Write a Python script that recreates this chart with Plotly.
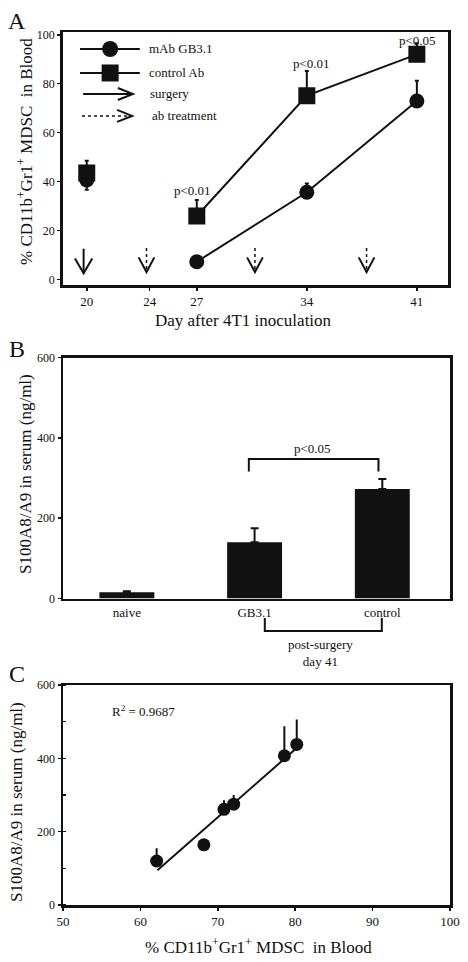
import plotly.graph_objects as go

# ---------------- data ----------------
# Panel A
days = [20, 27, 34, 41]
gb31 = [40.6, 7.2, 35.6, 72.9]
gb31_err_plus = [0, 0, 3.6, 8.3]
gb31_err_minus = [4.0, 0, 0, 0]
ctrl = [43.5, 25.9, 75.1, 92.0]
ctrl_err_plus = [5.0, 6.5, 10.1, 4.5]
ctrl_err_minus = [0, 0, 0, 0]
a_xticks = [20, 24, 27, 34, 41]
a_yticks = [0, 20, 40, 60, 80, 100]
pval_days = [26.7, 34.3, 41.06]
pval_y = [36.2, 88.3, 97.5]
pval_text = ["p<0.01", "p<0.01", "p<0.05"]
surgery_days = [19.8]
treatment_days = [23.8, 30.7, 37.8]

# Panel B
groups = ["naive", "GB3.1", "control"]
s100 = [15.4, 140, 272.6]
s100_err = [2.5, 35, 25]

# Panel C
mdsc = [62.1, 68.2, 70.8, 72.05, 78.6, 80.2]
s100_c = [120, 164, 261, 275, 407, 438]
s100_c_err = [32, 0, 22, 22, 78, 65]
fit_x = [62.2, 80.3]
fit_y = [95, 430]

# ---------------- style ----------------
FONT = "Liberation Serif, Times New Roman, serif"
INK = "#111111"

fig = go.Figure()

# Panel A traces
fig.add_trace(go.Scatter(
    x=days[:1], y=ctrl[:1], mode="markers",
    marker=dict(symbol="square", size=17, color=INK),
    error_y=dict(type="data", array=ctrl_err_plus[:1], arrayminus=ctrl_err_minus[:1],
                 color=INK, thickness=2, width=2),
    xaxis="x", yaxis="y", showlegend=False))
fig.add_trace(go.Scatter(
    x=days[:1], y=gb31[:1], mode="markers",
    marker=dict(symbol="circle", size=15, color=INK),
    error_y=dict(type="data", array=gb31_err_plus[:1], arrayminus=gb31_err_minus[:1],
                 color=INK, thickness=2, width=2),
    xaxis="x", yaxis="y", showlegend=False))
fig.add_trace(go.Scatter(
    x=days[1:], y=ctrl[1:], mode="lines+markers",
    line=dict(color=INK, width=2),
    marker=dict(symbol="square", size=17, color=INK),
    error_y=dict(type="data", array=ctrl_err_plus[1:], arrayminus=ctrl_err_minus[1:],
                 color=INK, thickness=2, width=2),
    xaxis="x", yaxis="y", showlegend=False))
fig.add_trace(go.Scatter(
    x=days[1:], y=gb31[1:], mode="lines+markers",
    line=dict(color=INK, width=2),
    marker=dict(symbol="circle", size=15, color=INK),
    error_y=dict(type="data", array=gb31_err_plus[1:], arrayminus=gb31_err_minus[1:],
                 color=INK, thickness=2, width=2),
    xaxis="x", yaxis="y", showlegend=False))

# Panel B
fig.add_trace(go.Bar(
    x=groups, y=s100, width=0.43, marker=dict(color=INK, line=dict(width=0)),
    error_y=dict(type="data", array=s100_err, arrayminus=[0, 0, 0],
                 color=INK, thickness=2, width=4),
    xaxis="x2", yaxis="y2", showlegend=False))

# Panel C
fig.add_trace(go.Scatter(
    x=fit_x, y=fit_y, mode="lines", line=dict(color=INK, width=2),
    xaxis="x3", yaxis="y3", showlegend=False))
fig.add_trace(go.Scatter(
    x=mdsc, y=s100_c, mode="markers",
    marker=dict(symbol="circle", size=13, color=INK),
    error_y=dict(type="data", array=s100_c_err, arrayminus=[0] * len(mdsc),
                 color=INK, thickness=2, width=1),
    xaxis="x3", yaxis="y3", showlegend=False))

shapes = []
annotations = []

# Panel A arrows (surgery solid, treatment dotted)
for d in surgery_days:
    shapes.append(dict(type="line", xref="x", yref="y", x0=d, x1=d, y0=12.5, y1=2.5,
                       line=dict(color=INK, width=2)))
    shapes.append(dict(type="path", xref="x", yref="y",
                       path=f"M {d-0.55},8.5 L {d},2.5 L {d+0.55},8.5",
                       line=dict(color=INK, width=2)))
for d in treatment_days:
    shapes.append(dict(type="line", xref="x", yref="y", x0=d, x1=d, y0=12.8, y1=3.0,
                       line=dict(color=INK, width=1.5, dash="dot")))
    shapes.append(dict(type="path", xref="x", yref="y",
                       path=f"M {d-0.5},9 L {d},3.0 L {d+0.5},9",
                       line=dict(color=INK, width=2)))

# Panel A legend (drawn in axis-domain coordinates)
leg_rows = [0.934, 0.839, 0.756, 0.669]
for r in leg_rows[:2]:
    shapes.append(dict(type="line", xref="x domain", yref="y domain",
                       x0=0.045, x1=0.2, y0=r, y1=r, line=dict(color=INK, width=2)))
shapes.append(dict(type="circle", xref="x domain", yref="y domain",
                   xsizemode="pixel", ysizemode="pixel", xanchor=0.123, yanchor=leg_rows[0],
                   x0=-8, x1=8, y0=-8, y1=8, fillcolor=INK, line=dict(color=INK, width=0)))
shapes.append(dict(type="rect", xref="x domain", yref="y domain",
                   xsizemode="pixel", ysizemode="pixel", xanchor=0.123, yanchor=leg_rows[1],
                   x0=-8.5, x1=8.5, y0=-8.5, y1=8.5, fillcolor=INK, line=dict(color=INK, width=0)))
shapes.append(dict(type="line", xref="x domain", yref="y domain",
                   x0=0.053, x1=0.18, y0=leg_rows[2], y1=leg_rows[2],
                   line=dict(color=INK, width=2)))
shapes.append(dict(type="line", xref="x domain", yref="y domain",
                   x0=0.05, x1=0.175, y0=leg_rows[3], y1=leg_rows[3],
                   line=dict(color=INK, width=1.5, dash="dot")))
for r, tip in [(leg_rows[2], 0.182), (leg_rows[3], 0.18)]:
    shapes.append(dict(type="path", xref="x domain", yref="y domain",
                       xsizemode="pixel", ysizemode="pixel", xanchor=tip, yanchor=r,
                       path="M -15,6 L 0,0 L -15,-6", line=dict(color=INK, width=2)))
leg_text = ["mAb GB3.1", "control Ab", "surgery", "ab treatment"]
leg_tx = [0.219, 0.219, 0.222, 0.226]
for t, r, tx in zip(leg_text, leg_rows, leg_tx):
    annotations.append(dict(text=t, xref="x domain", yref="y domain", x=tx, y=r,
                            xanchor="left", yanchor="middle", showarrow=False,
                            font=dict(family=FONT, size=13, color=INK)))

# p-values A
for x, y, t in zip(pval_days, pval_y, pval_text):
    annotations.append(dict(text=t, xref="x", yref="y", x=x, y=y, showarrow=False,
                            xanchor="center", yanchor="middle",
                            font=dict(family=FONT, size=13, color=INK)))

# Panel B bracket & labels
shapes.append(dict(type="path", xref="x2", yref="y2",
                   path="M 0.955,316 L 0.955,347 L 1.97,347 L 1.97,316",
                   line=dict(color=INK, width=2)))
annotations.append(dict(text="p<0.05", xref="x2", yref="y2", x=1.45, y=374,
                        showarrow=False, font=dict(family=FONT, size=13, color=INK)))
shapes.append(dict(type="path", xref="x2", yref="paper",
                   path=f"M 1.08,{1-618/962} L 1.08,{1-631/962} L 1.996,{1-631/962} L 1.996,{1-618/962}",
                   line=dict(color=INK, width=2)))
annotations.append(dict(text="post-surgery<br>day 41", xref="x2", yref="paper",
                        x=1.515, y=1 - 635/962, yanchor="top", showarrow=False,
                        font=dict(family=FONT, size=13, color=INK)))

# Panel C annotation
annotations.append(dict(text="R<sup>2</sup> = 0.9687", xref="x3", yref="y3", x=56.1, y=530,
                        xanchor="left", yanchor="middle", showarrow=False,
                        font=dict(family=FONT, size=13, color=INK)))

# Panel letters
for letter, ypx in [("A", 21), ("B", 349), ("C", 674)]:
    annotations.append(dict(text=letter, xref="paper", yref="paper", x=17 / 468, y=1 - ypx / 962,
                            xanchor="center", yanchor="middle", showarrow=False,
                            font=dict(family=FONT, size=24, color=INK)))

# Axis titles (as annotations for precise placement)
mdsc_title = "% CD11b<sup>+</sup>Gr1<sup>+</sup> MDSC  in Blood"
s100_title = "S100A8/A9 in serum (ng/ml)"
annotations += [
    dict(text=mdsc_title, xref="paper", yref="paper", x=25 / 468, y=1 - 152 / 962,
         textangle=-90, showarrow=False, xanchor="center", yanchor="middle",
         font=dict(family=FONT, size=17, color=INK)),
    dict(text="Day after 4T1 inoculation", xref="paper", yref="paper", x=243 / 468, y=1 - 320 / 962,
         showarrow=False, xanchor="center", yanchor="middle",
         font=dict(family=FONT, size=17, color=INK)),
    dict(text=s100_title, xref="paper", yref="paper", x=25 / 468, y=1 - 474 / 962,
         textangle=-90, showarrow=False, xanchor="center", yanchor="middle",
         font=dict(family=FONT, size=17, color=INK)),
    dict(text=s100_title, xref="paper", yref="paper", x=16 / 468, y=1 - 802 / 962,
         textangle=-90, showarrow=False, xanchor="center", yanchor="middle",
         font=dict(family=FONT, size=17, color=INK)),
    dict(text=mdsc_title, xref="paper", yref="paper", x=258 / 468, y=1 - 946 / 962,
         showarrow=False, xanchor="center", yanchor="middle",
         font=dict(family=FONT, size=17, color=INK)),
]

axis_common = dict(showline=True, linecolor=INK, linewidth=2.5, mirror=True,
                   showgrid=False, zeroline=False, ticks="outside", ticklen=3,
                   tickwidth=1.5, tickcolor=INK, automargin=False,
                   tickfont=dict(family=FONT, size=12, color=INK))
xfont = dict(family=FONT, size=13, color=INK)

fig.update_layout(
    template="none",
    width=468, height=962, autosize=False,
    margin=dict(l=0, r=0, t=0, b=0, pad=0, autoexpand=False),
    paper_bgcolor="white", plot_bgcolor="white",
    font=dict(family=FONT, color=INK),
    hovermode=False,
    xaxis=dict(domain=[62.7 / 468, 448.3 / 468], range=[18.47, 43.0],
               tickvals=a_xticks, anchor="y", **{**axis_common, "tickfont": xfont}),
    yaxis=dict(domain=[1 - 285 / 962, 1 - 32.3 / 962], range=[-2.3, 101],
               tickvals=a_yticks, anchor="x", **axis_common),
    xaxis2=dict(domain=[63 / 468, 450 / 468], range=[-0.5, 2.53], type="category",
                anchor="y2", **{**axis_common, "ticks": "", "tickfont": xfont}),
    yaxis2=dict(domain=[1 - 598.5 / 962, 1 - 357.5 / 962], range=[0, 600], dtick=200,
                anchor="x2", **axis_common),
    xaxis3=dict(domain=[63 / 468, 450 / 468], range=[50, 100], dtick=10,
                anchor="y3", **{**axis_common, "tickfont": xfont}),
    yaxis3=dict(domain=[1 - 905 / 962, 1 - 685 / 962], range=[0, 600], dtick=200,
                anchor="x3", minor=dict(dtick=100, ticks="inside", ticklen=3, tickcolor=INK),
                **axis_common),
    shapes=shapes, annotations=annotations, showlegend=False,
)

# remove the browser's default page margin so the figure sits at the window origin
fig.write_html(
    "out.html",
    config={"displayModeBar": False, "staticPlot": True},
    post_script="document.body.style.margin='0';document.body.style.padding='0';"
                "document.documentElement.style.margin='0';",
)
